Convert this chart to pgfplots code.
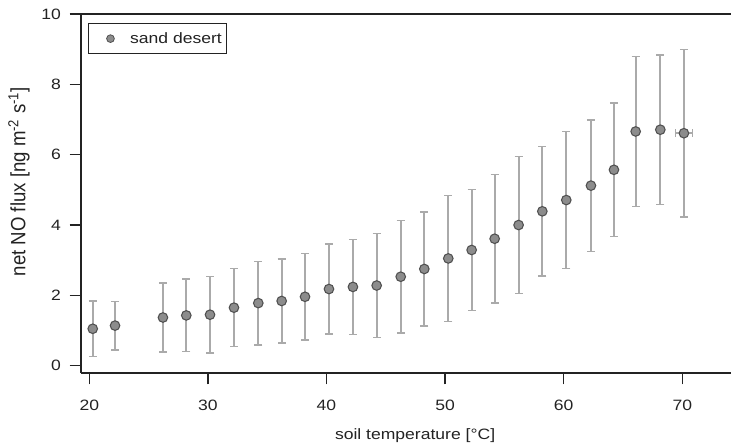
\documentclass[border=0pt]{standalone}
\usepackage{fontspec}
\setmainfont{Liberation Sans}[FakeStretch=1.17]
\newfontfamily\ylabfont{Liberation Sans}[FakeStretch=0.9]
\usepackage{pgfplots}
\pgfplotsset{compat=1.18}
\usepackage{pgfplotstable}
\definecolor{markfill}{RGB}{140,140,140}
\definecolor{markedge}{RGB}{80,80,80}
\definecolor{barcol}{RGB}{170,170,170}
\definecolor{axcol}{RGB}{35,35,35}

% sand desert: soil temperature, net NO flux, std
\pgfplotstableread{
x     y     ey
20.29 1.05 0.79
22.17 1.14 0.69
26.21 1.37 0.98
28.18 1.43 1.03
30.18 1.45 1.09
32.20 1.65 1.11
34.25 1.78 1.19
36.22 1.84 1.19
38.19 1.96 1.23
40.21 2.18 1.28
42.23 2.24 1.35
44.23 2.28 1.48
46.26 2.53 1.60
48.25 2.75 1.62
50.27 3.05 1.79
52.24 3.29 1.72
54.18 3.61 1.83
56.20 4.00 1.95
58.20 4.39 1.84
60.22 4.71 1.95
62.30 5.12 1.87
64.24 5.57 1.90
66.07 6.66 2.13
68.15 6.71 2.13
70.14 6.61 2.38
}\desert

\begin{document}
\begin{tikzpicture}
\begin{axis}[
  scale only axis, width=487.5pt, height=269.25pt,
  xmin=19.3, xmax=74.11, ymin=-0.208, ymax=10,
  axis x line*=bottom, axis y line*=left,
  axis line style={line width=1.4pt, color=axcol},
  xtick={20,30,...,70}, ytick={0,2,...,10},
  tick align=outside, major tick length=8.5pt,
  tick style={line width=1pt, color=axcol},
  tick label style={font=\fontsize{11.25}{13}\selectfont, text=axcol},
  xticklabel style={yshift=-8pt},
  yticklabel style={xshift=-3pt},
  /pgf/number format/assume math mode=true,
  xlabel={soil temperature [°C]},
  xlabel style={at={(axis description cs:0.514,-0.1755)}, anchor=center,
    font=\fontsize{11.25}{13}\selectfont, text=axcol},
  ylabel={net NO flux [ng m\textsuperscript{-2} s\textsuperscript{-1}]},
  ylabel style={at={(axis description cs:-0.0954,0.533)}, anchor=center,
    font=\ylabfont\fontsize{15.5}{17}\selectfont, text=axcol},
  legend style={at={(axis description cs:0.0112,0.974)}, anchor=north west,
    draw=axcol, line width=0.8pt, inner xsep=1.75pt, inner ysep=4.25pt,
    font=\fontsize{11.25}{13}\selectfont, text=axcol},
  legend image code/.code={
    \path[draw=none, fill=none] (0pt,0pt) -- (27.25pt,0pt);
    \filldraw[fill=markfill, draw=markedge, line width=0.6pt] (14.5pt,0pt) circle (2.9pt);
  },
  clip=false,
]
\addplot[forget plot, only marks, mark=none,
  error bars/.cd, x dir=both, x fixed=0.73,
  error bar style={line width=1.4pt, barcol},
  error mark options={rotate=90, line width=1.1pt, barcol, mark size=3pt}]
  coordinates {(70.14,6.61)};
\addplot[only marks, mark=*, mark size=3.6pt,
  mark options={fill=markfill, draw=markedge, line width=0.8pt},
  error bars/.cd, y dir=both, y explicit,
  error bar style={line width=1.4pt, barcol},
  error mark options={rotate=90, line width=1.1pt, barcol, mark size=3pt}]
  table[x=x, y=y, y error=ey] {\desert};
\addlegendentry{sand desert}
\draw[line width=1.4pt, axcol] (axis description cs:0,1) -- (axis description cs:1,1);
\coordinate (bl) at (axis description cs:-0.1246,-0.2061);
\coordinate (tr) at (axis description cs:1,1.039);
\end{axis}
\pgfresetboundingbox
\useasboundingbox (bl) rectangle (tr);
\end{tikzpicture}
\end{document}
